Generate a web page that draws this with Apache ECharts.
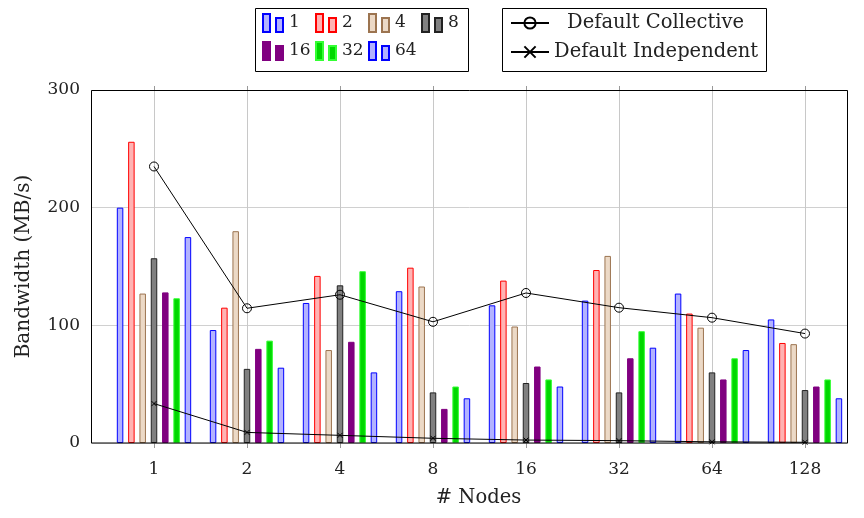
<!DOCTYPE html>
<html>
<head>
<meta charset="utf-8">
<script src="https://cdn.jsdelivr.net/npm/echarts@6/dist/echarts.min.js"></script>
<style>
  html, body { margin: 0; padding: 0; background: #fff; }
  #chart { width: 864px; height: 518px; }
</style>
</head>
<body>
<div id="chart"></div>
<script>
// ---- data ----
const nodes = ['1', '2', '4', '8', '16', '32', '64', '128'];
const procNames = ['1', '2', '4', '8', '16', '32', '64'];
const p1  = [200, 96, 119, 129, 117, 121, 127, 105];
const p2  = [256, 115, 142, 149, 138, 147, 110, 85];
const p4  = [127, 180, 79, 133, 99, 159, 98, 84];
const p8  = [157, 63, 134, 43, 51, 43, 60, 45];
const p16 = [128, 80, 86, 29, 65, 72, 54, 48];
const p32 = [123, 87, 146, 48, 54, 95, 72, 54];
const p64 = [175, 64, 60, 38, 48, 81, 79, 38];
const collective  = [235, 114.5, 126, 103, 127.5, 115, 106.5, 93];
const independent = [33.5, 9, 6.5, 4, 2.5, 2, 1, 0.6];
const yTicks = [0, 100, 200, 300];

// ---- styles ----
const FONT = 'DejaVu Serif';
const TXT = '#222';
const barData = [p1, p2, p4, p8, p16, p32, p64];
const barStyles = [
  { fill: '#b3b3ff', stroke: '#0000ff' },
  { fill: '#ffb3b3', stroke: '#ff0000' },
  { fill: '#ecd9c6', stroke: '#9c7450' },
  { fill: '#808080', stroke: '#222222' },
  { fill: '#800080', stroke: '#800080' },
  { fill: '#00d800', stroke: '#33ff33' },
  { fill: '#b3b3ff', stroke: '#0000ff' }
];

const barSeries = procNames.map((name, i) => ({
  name: name,
  type: 'bar',
  xAxisIndex: 0,
  yAxisIndex: 0,
  data: barData[i],
  barWidth: 6.5,
  barGap: '74%',
  itemStyle: { color: barStyles[i].fill, borderColor: barStyles[i].stroke, borderWidth: 1 },
  emphasis: { disabled: true },
  z: 2
}));

const lineSeries = [
  {
    name: 'Default Collective',
    type: 'line',
    xAxisIndex: 0, yAxisIndex: 0,
    data: collective,
    symbol: 'circle',
    symbolSize: 9,
    lineStyle: { color: '#000', width: 1 },
    itemStyle: { color: 'rgba(255,255,255,0)', borderColor: '#000', borderWidth: 1 },
    emphasis: { disabled: true },
    z: 5
  },
  {
    name: 'Default Independent',
    type: 'line',
    xAxisIndex: 0, yAxisIndex: 0,
    data: independent,
    symbol: 'path://M0,0L10,10M10,0L0,10',
    symbolSize: 5,
    lineStyle: { color: '#000', width: 1 },
    itemStyle: { color: '#000', borderColor: '#000', borderWidth: 1 },
    emphasis: { disabled: true },
    z: 5
  }
];

const legendDigits = { fontFamily: FONT, fontSize: 17, color: TXT };
const legendWords = { fontFamily: FONT, fontSize: 19.5, color: TXT };
const barLegends = procNames.map((name, k) => ({
  data: [name],
  left: 262 + (k % 4) * 53,
  top: 13 + Math.floor(k / 4) * 28,
  padding: 0,
  itemWidth: 22,
  itemHeight: 18,
  icon: 'path://M0,0H7V18H0Z M13,4H20V18H13Z',
  textStyle: legendDigits,
  selectedMode: false
}));
const lineLegends = ['Default Collective', 'Default Independent'].map((name, k) => ({
  data: [name],
  left: 510,
  top: 13 + k * 29,
  padding: 0,
  itemWidth: 38,
  itemHeight: 14,
  textStyle: Object.assign({}, legendWords, k === 0 ? { padding: [0, 0, 0, 13] } : {}),
  selectedMode: false
}));

const chart = echarts.init(document.getElementById('chart'), null, { renderer: 'canvas' });
chart.setOption({
  animation: false,
  backgroundColor: '#fff',
  textStyle: { fontFamily: FONT },
  grid: [
    { left: 107.5, top: 90, width: 744, height: 353, containLabel: false },
    { left: 91, top: 90, width: 757, height: 353, containLabel: false }
  ],
  legend: barLegends.concat(lineLegends),
  xAxis: [
    {
      type: 'category', gridIndex: 0, data: nodes,
      axisLine: { show: false },
      axisTick: { show: true, alignWithLabel: true, length: 5, lineStyle: { color: '#999' } },
      axisLabel: { fontFamily: FONT, fontSize: 17, color: TXT, margin: 18 },
      splitLine: { show: true, alignWithLabel: true, lineStyle: { color: '#c8c8c8', width: 1 } }
    },
    {
      type: 'category', gridIndex: 0, data: nodes, position: 'top',
      axisLine: { show: false },
      axisTick: { show: true, alignWithLabel: true, length: 4, lineStyle: { color: '#999' } },
      axisLabel: { show: false },
      splitLine: { show: false }
    },
    {
      type: 'value', gridIndex: 1, min: 0, max: 1,
      axisLine: { show: false }, axisTick: { show: false },
      axisLabel: { show: false }, splitLine: { show: false },
      name: '# Nodes', nameLocation: 'middle', nameGap: 45,
      nameTextStyle: { fontFamily: FONT, fontSize: 19.5, color: TXT, padding: [0, 0, 0, 18] }
    }
  ],
  yAxis: [
    { type: 'value', gridIndex: 0, min: 0, max: 300, show: false },
    {
      type: 'value', gridIndex: 1, min: yTicks[0], max: yTicks[yTicks.length - 1], interval: 100,
      axisLine: { show: false }, axisTick: { show: false },
      axisLabel: { fontFamily: FONT, fontSize: 17, color: TXT, margin: 11 },
      splitLine: { show: true, lineStyle: { color: '#d0d0d0', width: 1 } },
      name: 'Bandwidth (MB/s)', nameLocation: 'middle', nameGap: 57,
      nameTextStyle: { fontFamily: FONT, fontSize: 20, color: TXT }
    }
  ],
  graphic: [
    { type: 'rect', z: 100, silent: true, shape: { x: 91.5, y: 90.5, width: 756, height: 352.5 }, style: { fill: 'none', stroke: '#000', lineWidth: 1 } },
    { type: 'rect', z: 100, silent: true, shape: { x: 255.5, y: 8.5, width: 213, height: 63 }, style: { fill: 'none', stroke: '#000', lineWidth: 1 } },
    { type: 'rect', z: 100, silent: true, shape: { x: 502.5, y: 8.5, width: 264, height: 63 }, style: { fill: 'none', stroke: '#000', lineWidth: 1 } }
  ],
  series: barSeries.concat(lineSeries)
});
</script>
</body>
</html>
